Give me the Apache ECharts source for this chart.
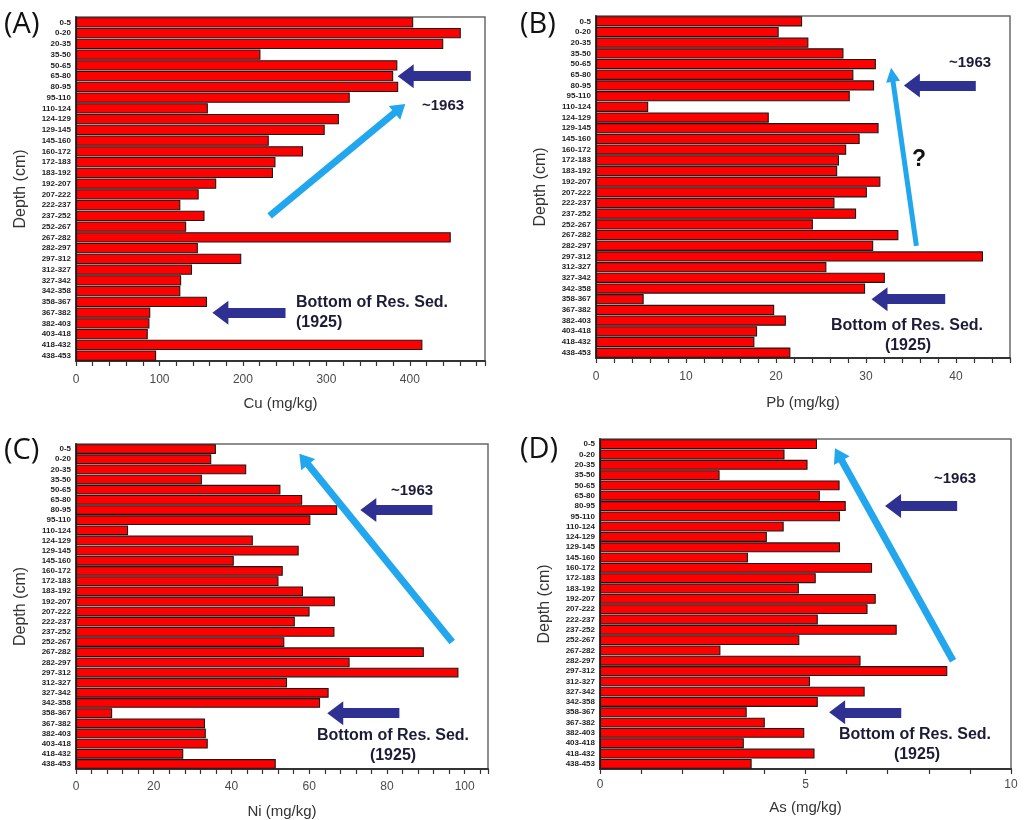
<!DOCTYPE html>
<html><head><meta charset="utf-8">
<script src="https://cdn.jsdelivr.net/npm/echarts@6/dist/echarts.min.js"></script>
<style>html,body{margin:0;padding:0;background:#fff}#c{width:1024px;height:820px}</style>
</head><body><div id="c"></div>
<script>
const categories = ['0-5','0-20','20-35','35-50','50-65','65-80','80-95','95-110','110-124','124-129','129-145','145-160','160-172','172-183','183-192','192-207','207-222','222-237','237-252','252-267','267-282','282-297','297-312','312-327','327-342','342-358','358-367','367-382','382-403','403-418','418-432','438-453'];
const cuValues = [404,461,440,221,385,380,386,328,158,315,298,231,272,239,236,168,147,125,154,132,449,146,198,139,126,125,157,89,88,86,415,96];
const pbValues = [22.9,20.3,23.6,27.5,31.1,28.6,30.9,28.2,5.8,19.2,31.4,29.3,27.8,27.0,26.8,31.6,30.1,26.5,28.9,24.1,33.6,30.8,43.0,25.6,32.1,29.9,5.3,19.8,21.1,17.9,17.6,21.6];
const niValues = [36.0,34.8,43.8,32.4,52.6,58.2,67.2,60.3,13.4,45.5,57.3,40.6,53.2,52.1,58.4,66.6,60.1,56.3,66.5,53.6,89.5,70.4,98.4,54.3,65.0,62.8,9.3,33.2,33.4,33.9,27.6,51.4];
const asValues = [5.28,4.49,5.05,2.91,5.83,5.35,5.98,5.84,4.47,4.06,5.84,3.60,6.62,5.25,4.84,6.71,6.51,5.30,7.22,4.85,2.93,6.34,8.45,5.11,6.44,5.30,3.57,4.01,4.97,3.50,5.22,3.69];
const axisNames = ['Cu (mg/kg)','Pb (mg/kg)','Ni (mg/kg)','As (mg/kg)'];
const panelLetters = ['(A)','(B)','(C)','(D)'];

// annotation arrows in data coordinates: [x1, cat1, x2, cat2]
const navyArrows = [
  [[473,'65-80',395,'65-80'],[251,'367-382',173,'367-382']],
  [[42.2,'80-95',35.1,'80-95'],[38.8,'358-367',31.5,'358-367']],
  [[91.7,'80-95',75.2,'80-95'],[83.2,'358-367',66.7,'358-367']],
  [[8.69,'80-95',7.13,'80-95'],[7.33,'358-367',5.77,'358-367']]
];
const blueArrows = [
  [232,'237-252',388,'110-124'],
  [35.6,'282-297',32.9,'65-80'],
  [96.8,'252-267',58.6,'0-20'],
  [8.59,'282-297',5.80,'0-20']
];

const panels = [
  {values: cuValues, grid:{left:76, top:17, width:409, height:344}, max:490, step:20, major:100, nameGap:35, labelMargin:13, blueW:7},
  {values: pbValues, grid:{left:596, top:16, width:414, height:342}, max:46, step:2, major:10, nameGap:37, labelMargin:13, blueW:5},
  {values: niValues, grid:{left:76, top:444, width:412, height:325}, max:106, step:4, major:20, nameGap:35, labelMargin:12, blueW:7},
  {values: asValues, grid:{left:600, top:439, width:411, height:330}, max:10, step:1, major:5, nameGap:31, labelMargin:10, blueW:7}
];

const FONT = '"Liberation Sans", Arial, sans-serif';
const NAVY = '#2e3192';
const BLUE = '#22a6ee';

const grid = [], xAxis = [], yAxis = [], series = [];
panels.forEach((p, i) => {
  grid.push(Object.assign({show:true, borderColor:'#6a6a6a', borderWidth:1.5, backgroundColor:'transparent'}, p.grid));
  xAxis.push({
    type:'value', gridIndex:i, min:0, max:p.max, interval:p.step,
    name:axisNames[i], nameLocation:'middle', nameGap:p.nameGap,
    nameTextStyle:{fontFamily:FONT, fontSize:15, color:'#333'},
    axisLine:{show:true, lineStyle:{color:'#333', width:2}},
    axisTick:{show:true, inside:false, length:5, lineStyle:{color:'#333', width:1.2}},
    axisLabel:{fontFamily:FONT, fontSize:12, color:'#4a4a4a', margin:p.labelMargin,
      formatter: v => (Math.abs(v / p.major - Math.round(v / p.major)) < 1e-6) ? String(Math.round(v)) : ''},
    splitLine:{show:false}
  });
  yAxis.push({
    type:'category', gridIndex:i, data:categories, inverse:true,
    name:'Depth (cm)', nameLocation:'middle', nameGap:47,
    nameTextStyle:{fontFamily:FONT, fontSize:16, color:'#333'},
    axisLine:{show:true, lineStyle:{color:'#333', width:2}},
    axisTick:{show:false},
    axisLabel:{fontFamily:FONT, fontSize:8, fontWeight:'bold', color:'#222', margin:5, interval:0}
  });
  const mlData = [];
  navyArrows[i].forEach(a => {
    mlData.push([
      {coord:[a[0], a[1]], symbol:'none', lineStyle:{color:NAVY, width:10, type:'solid'}},
      {coord:[a[2], a[3]], symbol:'triangle', symbolSize:[24,16]}
    ]);
  });
  const b = blueArrows[i];
  mlData.push([
    {coord:[b[0], b[1]], symbol:'none', lineStyle:{color:BLUE, width:p.blueW, type:'solid'}},
    {coord:[b[2], b[3]], symbol:'triangle', symbolSize:[p.blueW*2+4, 14]}
  ]);
  series.push({
    type:'bar', xAxisIndex:i, yAxisIndex:i, data:p.values,
    barCategoryGap:'4%',
    itemStyle:{color:'#ff0000', borderColor:'#1a1a1a', borderWidth:1.1},
    markLine:{silent:true, animation:false, label:{show:false}, emphasis:{disabled:true}, data:mlData}
  });
});

function txt(x, y, text, opts) {
  return {type:'text', x, y, silent:true, z:100, style:Object.assign({
    text, fontFamily:FONT, fontSize:16, fontWeight:'bold', fill:'#1c1c38',
    textAlign:'center', textVerticalAlign:'middle'}, opts || {})};
}
const LET = {textAlign:'left', fontFamily:'"Open Sans", "Noto Sans", sans-serif', fontSize:29, fontWeight:'normal', fill:'#111'};
const graphic = [
  txt(4, 25, panelLetters[0], LET),
  txt(520, 25, panelLetters[1], LET),
  txt(4, 451, panelLetters[2], LET),
  txt(520, 450, panelLetters[3], LET),
  txt(443, 106, '~1963', {fontSize:15}),
  txt(296, 303, 'Bottom of Res. Sed.', {textAlign:'left'}),
  txt(296, 323, '(1925)', {textAlign:'left'}),
  txt(970, 63, '~1963', {fontSize:15}),
  txt(919, 160, '?', {fontSize:23, fill:'#111'}),
  txt(907, 326, 'Bottom of Res. Sed.'),
  txt(908, 346, '(1925)'),
  txt(412, 491, '~1963', {fontSize:15}),
  txt(393, 736, 'Bottom of Res. Sed.'),
  txt(393, 756, '(1925)'),
  txt(955, 479, '~1963', {fontSize:15}),
  txt(915, 735, 'Bottom of Res. Sed.'),
  txt(917, 755, '(1925)')
];

const chart = echarts.init(document.getElementById('c'), null, {renderer:'canvas'});
chart.setOption({animation:false, backgroundColor:'#fff', grid, xAxis, yAxis, series, graphic});
</script>
</body></html>
